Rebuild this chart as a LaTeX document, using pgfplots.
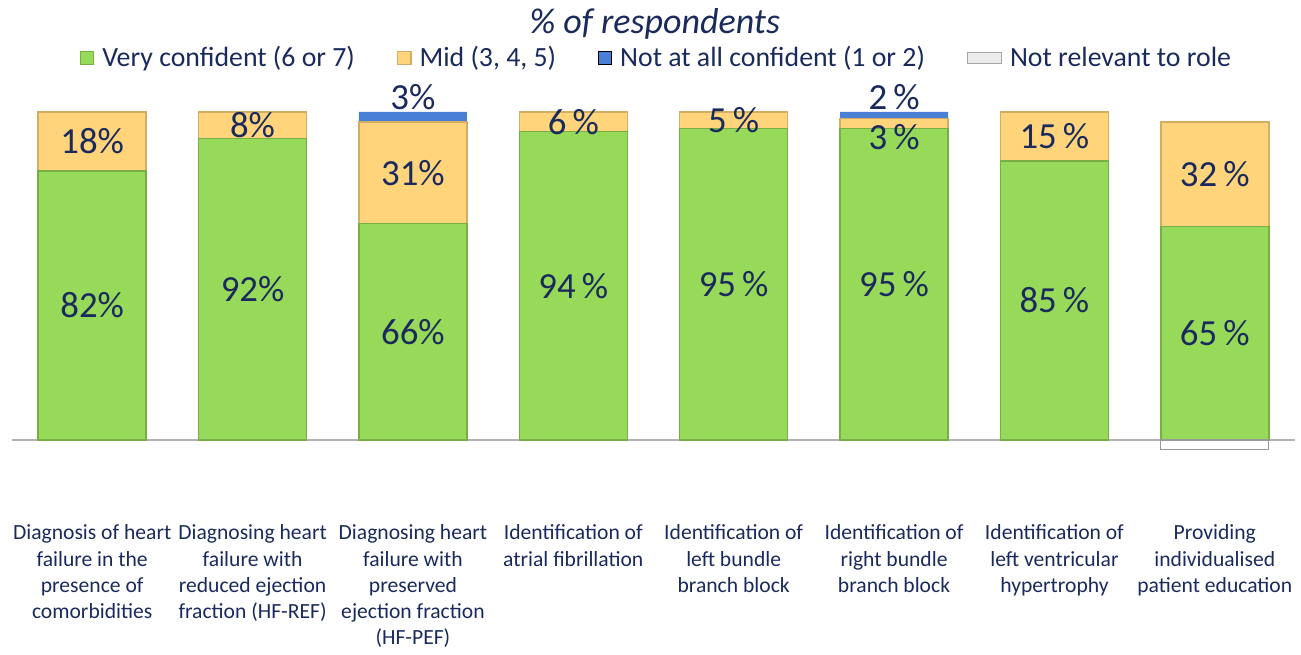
\documentclass[border=0pt]{standalone}
\usepackage{fontspec}
\setmainfont{Carlito}
\usepackage{pgfplots}
\pgfplotsset{compat=1.18}
\definecolor{navy}{HTML}{1A2A5C}
\definecolor{vgreen}{HTML}{97D958}
\definecolor{vgold}{HTML}{FFD47A}
\definecolor{vblue}{HTML}{4A7FD6}
\tikzset{dl/.style={text=navy, font=\fontsize{18.4}{20}\selectfont, inner sep=0pt}}
\frenchspacing
\begin{document}
\begin{tikzpicture}
\begin{axis}[
  name=main,
  scale only axis, width=641.5pt, height=168.9pt,
  xmin=-0.5, xmax=7.5, ymin=-3, ymax=100,
  ybar stacked, bar width=54pt,
  axis line style={draw=none}, ytick=\empty, xtick={0,...,7}, major tick length=0pt,
  xticklabels={{Diagnosis of heart\\failure in the\\presence of\\comorbidities},
    {Diagnosing heart\\failure with\\reduced ejection\\fraction (HF-REF)},
    {Diagnosing heart\\failure with\\preserved\\ejection fraction\\(HF-PEF)},
    {Identification of\\atrial fibrillation},
    {Identification of\\left bundle\\branch block},
    {Identification of\\right bundle\\branch block},
    {Identification of\\left ventricular\\hypertrophy},
    {Providing\\individualised\\patient education}},
  xticklabel style={align=center, font=\fontsize{10.8}{13.1}\selectfont, text=navy, anchor=north, yshift=-34pt},
  clip=false,
  legend style={at={(0.503,1.16)}, anchor=center, draw=none, fill=none,
    legend columns=4, font=\fontsize{13.9}{15}\selectfont, text=navy,
    /tikz/every odd column/.append style={column sep=2pt},
    /tikz/every even column/.append style={column sep=19pt}},
  legend image code/.code={\draw[#1] (0pt,-3.3pt) rectangle (6.6pt,3.3pt);},
]
\addplot[fill=vgreen, draw=vgreen!80!black, line width=0.7pt] coordinates {(0,82)(1,92)(2,66)(3,94)(4,95)(5,95)(6,85)(7,65)};
\addlegendentry{Very confident (6 or 7)}
\addplot[fill=vgold, draw=vgold!82!black, line width=0.7pt] coordinates {(0,18)(1,8)(2,31)(3,6)(4,5)(5,3)(6,15)(7,32)};
\addlegendentry{Mid (3, 4, 5)}
\addplot[fill=vblue, draw=none] coordinates {(0,0)(1,0)(2,3)(3,0)(4,0)(5,2)(6,0)(7,0)};
\addlegendentry{Not at all confident (1 or 2)}
\addlegendimage{area legend, fill=gray!15, draw=gray!70}
\addlegendentry{Not relevant to role}
\draw[gray!60, line width=0.6pt] (axis cs:-0.5,0) -- (axis cs:7.5,0);
\node[text=navy, font=\itshape\fontsize{18}{20}\selectfont] at (rel axis cs:0.501,1.262) {\% of respondents};
\end{axis}
\begin{axis}[
  scale only axis, width=641.5pt, height=168.9pt,
  xmin=-0.5, xmax=7.5, ymin=-3, ymax=100,
  ybar, bar width=54pt, hide axis, clip=false,
]
\addplot[fill=white, draw=gray!80, line width=0.6pt] coordinates {(7,-3)};
\node[dl] at (axis cs:0,41) {82\%};
\node[dl] at (axis cs:0,91) {18\%};
\node[dl] at (axis cs:1,46) {92\%};
\node[dl] at (axis cs:1,96) {8\%};
\node[dl] at (axis cs:2,33) {66\%};
\node[dl] at (axis cs:2,81.5) {31\%};
\node[dl] at (axis cs:2,104.6) {3\%};
\node[dl] at (axis cs:3,47) {94\,\%};
\node[dl] at (axis cs:3,97) {6\,\%};
\node[dl] at (axis cs:4,47.5) {95\,\%};
\node[dl] at (axis cs:4,97.5) {5\,\%};
\node[dl] at (axis cs:5,47.5) {95\,\%};
\node[dl] at (axis cs:5,92.4) {3\,\%};
\node[dl] at (axis cs:5,104.6) {2\,\%};
\node[dl] at (axis cs:6,42.5) {85\,\%};
\node[dl] at (axis cs:6,92.5) {15\,\%};
\node[dl] at (axis cs:7,32.5) {65\,\%};
\node[dl] at (axis cs:7,81) {32\,\%};
\end{axis}
\path[use as bounding box] ([xshift=-6pt,yshift=-100.6pt]main.south west) rectangle ++(650.5pt,325.5pt);
\end{tikzpicture}
\end{document}
